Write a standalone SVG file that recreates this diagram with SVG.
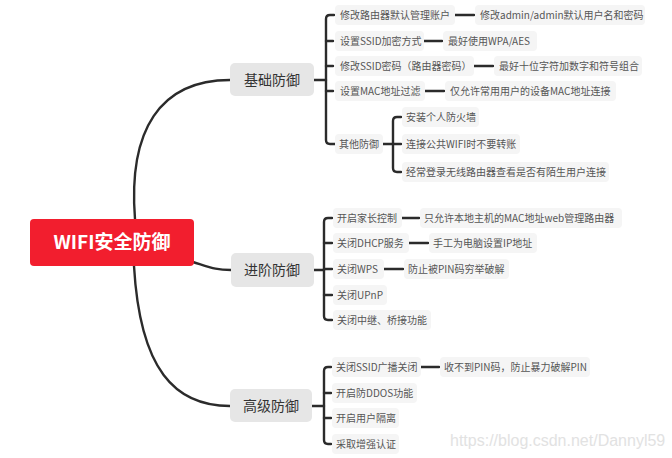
<svg xmlns="http://www.w3.org/2000/svg" width="672" height="458" viewBox="0 0 672 458">
<style>
.t{font-family:"Noto Sans CJK SC","Noto Sans",sans-serif;}
.root rect{fill:#f21e2e;}
.root text{fill:#fff;font-size:19px;font-weight:bold;text-anchor:middle;}
.br rect{fill:#e6e6e6;}
.br text{fill:#333;font-size:14px;text-anchor:middle;}
.lf rect{fill:#f5f5f5;}
.lf text{fill:#555;font-size:10px;}
.c{fill:none;stroke:#2b2b2b;stroke-width:2.4;stroke-linecap:round;}
.wm{font-family:"Liberation Sans",Arial,sans-serif;font-size:16px;fill:#e2e2e2;}
</style>
<rect width="672" height="458" fill="#fff"/>
<g id="connectors">
<path class="c" d="M135 219 C128 130,160 80,230 80"/>
<path class="c" d="M193 262 C212 268,216 270,231 270"/>
<path class="c" d="M134 266 C140 370,175 406,230 406"/>
<!-- 基础防御 bracket -->
<path class="c" d="M313 80 H326"/>
<path class="c" d="M334 15 H330 Q326 15 326 19 V140 Q326 144 330 144 H335"/>
<path class="c" d="M326 41 H333 M326 66 H333 M326 91 H333"/>
<path class="c" d="M455 15 H474 M424 41 H442 M474 66 H493 M425 91 H444"/>
<path class="c" d="M383 144 H393"/>
<path class="c" d="M401 117 H397 Q393 117 393 121 V168 Q393 172 397 172 H401"/>
<path class="c" d="M393 144 H401"/>
<!-- 进阶防御 bracket -->
<path class="c" d="M314 270 H324"/>
<path class="c" d="M332 218 H328 Q324 218 324 222 V316 Q324 320 328 320 H332"/>
<path class="c" d="M324 243 H332 M324 269 H332 M324 295 H332"/>
<path class="c" d="M402 218 H419 M409 243 H428 M384 269 H403"/>
<!-- 高级防御 bracket -->
<path class="c" d="M312 406 H324"/>
<path class="c" d="M331 367 H328 Q324 367 324 371 V440 Q324 444 328 444 H331"/>
<path class="c" d="M324 393 H331 M324 418 H331"/>
<path class="c" d="M421 367 H439"/>
</g>
<g id="root" class="t root"><rect x="30" y="219" width="164" height="47" rx="4"/><text x="112" y="249">WIFI安全防御</text></g>
<g id="b1" class="t br"><rect x="230" y="63" width="84" height="33" rx="5"/><text x="272" y="85">基础防御</text></g>
<g id="b2" class="t br"><rect x="231" y="253" width="83" height="34" rx="5"/><text x="272" y="275">进阶防御</text></g>
<g id="b3" class="t br"><rect x="230" y="389" width="82" height="33" rx="5"/><text x="271" y="411">高级防御</text></g>
<g id="n1" class="t lf"><rect x="335" y="5" width="120" height="20" rx="4"/><text x="340" y="18.5">修改路由器默认管理账户</text></g>
<g id="n1a" class="t lf"><rect x="475" y="5" width="170" height="20" rx="4"/><text x="480" y="18.5">修改admin/admin默认用户名和密码</text></g>
<g id="n2" class="t lf"><rect x="335" y="31" width="89" height="20" rx="4"/><text x="340" y="44.5">设置SSID加密方式</text></g>
<g id="n2a" class="t lf"><rect x="443" y="31" width="94" height="20" rx="4"/><text x="448" y="44.5">最好使用WPA/AES</text></g>
<g id="n3" class="t lf"><rect x="335" y="56" width="139" height="20" rx="4"/><text x="340" y="69.5">修改SSID密码（路由器密码）</text></g>
<g id="n3a" class="t lf"><rect x="494" y="56" width="148" height="20" rx="4"/><text x="499" y="69.5">最好十位字符加数字和符号组合</text></g>
<g id="n4" class="t lf"><rect x="335" y="81" width="90" height="20" rx="4"/><text x="340" y="94.5">设置MAC地址过滤</text></g>
<g id="n4a" class="t lf"><rect x="445" y="81" width="171" height="20" rx="4"/><text x="450" y="94.5">仅允许常用用户的设备MAC地址连接</text></g>
<g id="n5" class="t lf"><rect x="335" y="134" width="48" height="20" rx="4"/><text x="339" y="147.5">其他防御</text></g>
<g id="n5a" class="t lf"><rect x="402" y="107" width="77" height="20" rx="4"/><text x="406" y="120.5">安装个人防火墙</text></g>
<g id="n5b" class="t lf"><rect x="402" y="134" width="118" height="20" rx="4"/><text x="406" y="147.5">连接公共WIFI时不要转账</text></g>
<g id="n5c" class="t lf"><rect x="402" y="162" width="207" height="20" rx="4"/><text x="406" y="175.5">经常登录无线路由器查看是否有陌生用户连接</text></g>
<g id="m1" class="t lf"><rect x="333" y="208" width="69" height="20" rx="4"/><text x="337" y="221.5">开启家长控制</text></g>
<g id="m1a" class="t lf"><rect x="420" y="208" width="202" height="20" rx="4"/><text x="424" y="221.5">只允许本地主机的MAC地址web管理路由器</text></g>
<g id="m2" class="t lf"><rect x="333" y="233" width="76" height="20" rx="4"/><text x="337" y="246.5">关闭DHCP服务</text></g>
<g id="m2a" class="t lf"><rect x="429" y="233" width="108" height="20" rx="4"/><text x="433" y="246.5">手工为电脑设置IP地址</text></g>
<g id="m3" class="t lf"><rect x="333" y="259" width="51" height="20" rx="4"/><text x="337" y="272.5">关闭WPS</text></g>
<g id="m3a" class="t lf"><rect x="404" y="259" width="105" height="20" rx="4"/><text x="408" y="272.5">防止被PIN码穷举破解</text></g>
<g id="m4" class="t lf"><rect x="333" y="285" width="54" height="20" rx="4"/><text x="337" y="298.5">关闭UPnP</text></g>
<g id="m5" class="t lf"><rect x="333" y="310" width="98" height="20" rx="4"/><text x="337" y="323.5">关闭中继、桥接功能</text></g>
<g id="h1" class="t lf"><rect x="332" y="357" width="89" height="20" rx="4"/><text x="336" y="370.5">关闭SSID广播关闭</text></g>
<g id="h1a" class="t lf"><rect x="440" y="357" width="150" height="20" rx="4"/><text x="444" y="370.5">收不到PIN码，防止暴力破解PIN</text></g>
<g id="h2" class="t lf"><rect x="332" y="383" width="85" height="20" rx="4"/><text x="336" y="396.5">开启防DDOS功能</text></g>
<g id="h3" class="t lf"><rect x="332" y="408" width="67" height="20" rx="4"/><text x="336" y="421.5">开启用户隔离</text></g>
<g id="h4" class="t lf"><rect x="332" y="434" width="67" height="20" rx="4"/><text x="336" y="447.5">采取增强认证</text></g>
<text class="wm" x="450" y="446">https://blog.csdn.net/Dannyl59</text>
</svg>
